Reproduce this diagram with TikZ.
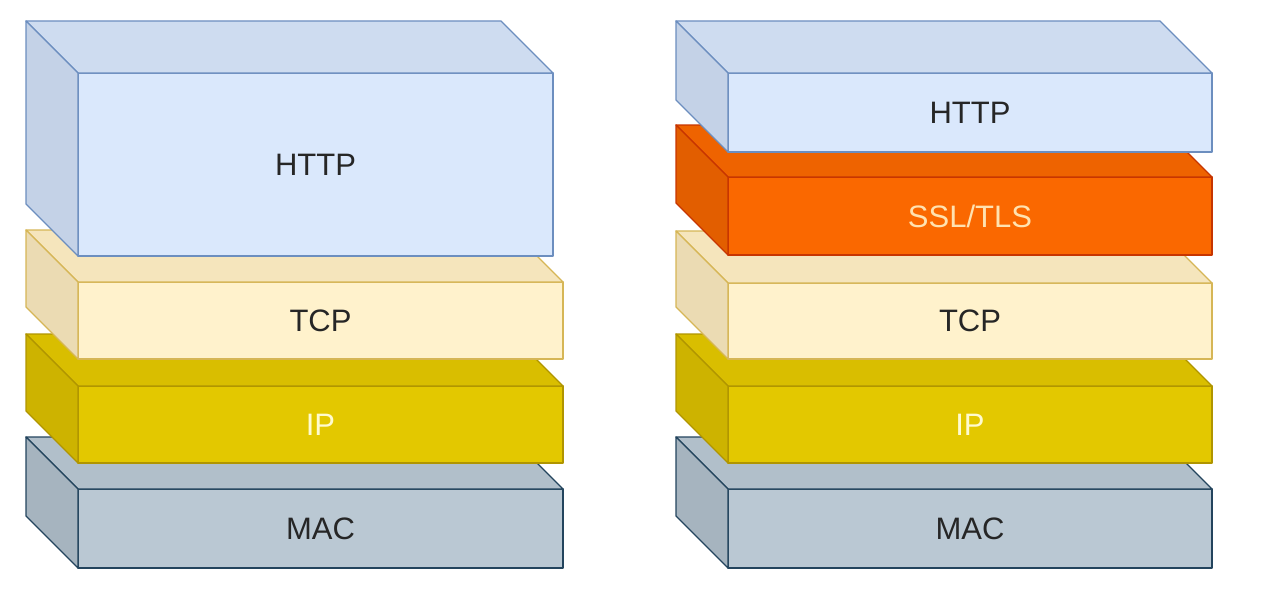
\documentclass[tikz,border=0pt]{standalone}
\usepackage{fontspec}
\setmainfont{Liberation Sans}
\definecolor{blueF}{HTML}{DAE8FC}\definecolor{blueT}{HTML}{CEDCF0}\definecolor{blueS}{HTML}{C4D2E7}\definecolor{blueD}{HTML}{6C8EBF}\definecolor{blueX}{HTML}{262626}
\definecolor{creamF}{HTML}{FFF2CC}\definecolor{creamT}{HTML}{F5E5BC}\definecolor{creamS}{HTML}{EBDBB3}\definecolor{creamD}{HTML}{D6B656}\definecolor{creamX}{HTML}{262626}
\definecolor{yelF}{HTML}{E3C800}\definecolor{yelT}{HTML}{D9BE00}\definecolor{yelS}{HTML}{CDB300}\definecolor{yelD}{HTML}{B09500}\definecolor{yelX}{HTML}{FFFBD0}
\definecolor{grayF}{HTML}{BAC8D3}\definecolor{grayT}{HTML}{B1BFCA}\definecolor{grayS}{HTML}{A6B4BF}\definecolor{grayD}{HTML}{23445D}\definecolor{grayX}{HTML}{262626}
\definecolor{orangeF}{HTML}{FA6800}\definecolor{orangeT}{HTML}{EE6300}\definecolor{orangeS}{HTML}{E25E00}\definecolor{orangeD}{HTML}{C73500}\definecolor{orangeX}{HTML}{FFE2B0}
\tikzset{face/.style={line width=1.3pt, line join=round}}
% #1 name, #2 x, #3 y of front top, #4 width, #5 height, #6 colours, #7 label
\newcommand{\layer}[7]{%
\node[face, draw=#6D, fill=#6F, text=#6X, font=\fontsize{31}{36}\selectfont, inner sep=0pt, outer sep=0pt, minimum width=#4pt, minimum height=#5pt, anchor=north west] (#1) at (#2,#3) {#7};
\filldraw[face, fill=#6T, draw=#6D] (#1.north west) -- ++(-52,-52) -- ++(#4,0) -- (#1.north east) -- cycle;
\filldraw[face, fill=#6S, draw=#6D] (#1.north west) -- ++(-52,-52) -- ++(0,#5) -- (#1.south west) -- cycle;
}

\begin{document}
\begin{tikzpicture}[x=1pt,y=-1pt]
\useasboundingbox (0,0) rectangle (1276,602);
% plain stack
\layer{lmac}{78}{489}{485}{79}{gray}{MAC}
\layer{lip}{78}{386}{485}{77}{yel}{IP}
\layer{ltcp}{78}{282}{485}{77}{cream}{TCP}
\layer{lhttp}{78}{73}{475}{183}{blue}{HTTP}
% with SSL/TLS
\layer{rmac}{728}{489}{484}{79}{gray}{MAC}
\layer{rip}{728}{386}{484}{77}{yel}{IP}
\layer{rtcp}{728}{283}{484}{76}{cream}{TCP}
\layer{rssl}{728}{177}{484}{78}{orange}{SSL/TLS}
\layer{rhttp}{728}{73}{484}{79}{blue}{HTTP}
\end{tikzpicture}
\end{document}
